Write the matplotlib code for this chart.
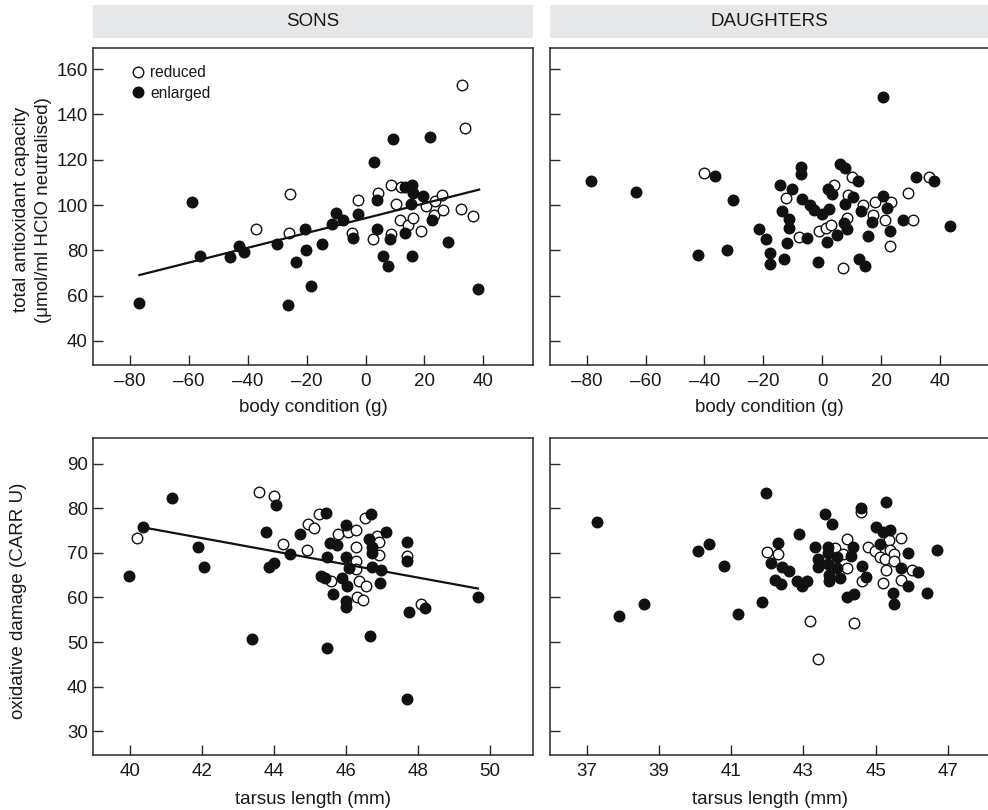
import matplotlib
matplotlib.use("Agg")
import matplotlib.pyplot as plt
from matplotlib.lines import Line2D

plt.rcParams['font.family'] = ['Liberation Sans', 'DejaVu Sans']

# ---------------- data ----------------
# SONS: total antioxidant capacity vs body condition
sons_tac_red_x = [32.8, 33.7, -25.7, -37.2, -25.9, -2.7, 4.3, -4.7, 2.5, 8.6, 12.0, 10.2, 8.6, 11.8,
                  14.3, 16.3, 18.8, 20.6, 23.6, 26.1, 23.4, 26.3, 32.6, 36.5]
sons_tac_red_y = [153.1, 134.2, 104.8, 89.2, 87.7, 102.1, 105.4, 87.7, 85.0, 108.9, 108.0, 100.6, 87.1, 93.6,
                  91.2, 94.2, 88.6, 99.5, 101.8, 104.5, 95.6, 97.7, 98.3, 95.0]
sons_tac_enl_x = [-76.8, -59.1, -56.2, -46.1, -43.1, -41.2, -30.2, -26.2, -23.6, -20.7, -20.2, -18.5,
                  -14.7, -11.5, -10.0, -7.8, -4.3, -2.5, 3.0, 3.8, 3.9, 5.9, 7.5, 8.4, 9.3, 13.4, 13.4,
                  15.7, 15.4, 16.1, 15.7, 19.5, 21.9, 22.7, 28.0, 38.3]
sons_tac_enl_y = [56.6, 101.5, 77.7, 76.9, 81.9, 79.3, 82.8, 56.0, 74.7, 89.6, 80.3, 64.1,
                  82.7, 91.7, 96.5, 93.6, 85.3, 96.0, 118.8, 102.1, 89.2, 77.7, 73.3, 85.0, 129.2, 87.7, 108.0,
                  108.9, 100.6, 105.4, 77.7, 104.2, 130.0, 93.6, 83.6, 63.1]
sons_tac_fit_x = [-76.8, 38.6]
sons_tac_fit_y = [69.1, 106.8]

# DAUGHTERS: total antioxidant capacity vs body condition
dau_tac_red_x = [-40.3, -12.4, -7.8, -1.1, 1.3, 3.1, 3.9, 8.5, 8.8, 10.1, 7.2, 13.7, 17.4, 17.8,
                 21.4, 23.4, 23.2, 29.1, 30.9, 36.2]
dau_tac_red_y = [114.3, 102.9, 85.8, 88.7, 89.9, 91.0, 108.9, 94.2, 104.6, 112.4, 72.4, 100.1, 95.7, 101.3,
                 93.6, 101.3, 81.9, 105.1, 93.6, 112.2]
dau_tac_enl_x = [-78.5, -63.4, -36.4, -30.2, -42.3, -32.5, -21.4, -19.1, -17.8, -17.8, -14.3, -13.8,
                 -13.0, -12.1, -11.2, -11.4, -10.3, -7.2, -7.2, -6.8, -5.1, -4.1, -2.8, -1.3, 0.0, 1.5,
                 1.9, 2.3, 3.4, 5.0, 5.9, 7.6, 7.9, 7.4, 8.5, 10.6, 12.0, 12.5, 13.2, 14.6, 15.5, 16.9,
                 20.8, 20.5, 21.9, 23.2, 27.4, 32.0, 38.0, 43.4]
dau_tac_enl_y = [110.4, 105.8, 112.9, 102.1, 78.1, 80.0, 89.6, 84.9, 78.9, 74.0, 108.9, 97.4,
                 76.4, 83.3, 93.8, 90.0, 107.0, 116.6, 113.9, 102.8, 85.3, 99.9, 97.8, 74.9, 96.0, 83.6,
                 107.1, 98.4, 104.9, 86.8, 118.0, 116.3, 100.4, 92.1, 89.5, 103.7, 110.4, 76.4, 97.2, 73.3,
                 86.2, 92.7, 147.6, 104.2, 98.9, 88.6, 93.6, 112.2, 110.7, 90.6]

# SONS: oxidative damage vs tarsus length
sons_dam_red_x = [40.21, 43.58, 43.99, 44.26, 44.91, 44.95, 45.10, 45.25, 45.78, 46.06, 46.28, 46.28,
                  46.28, 46.28, 45.58, 46.37, 46.56, 46.30, 46.48, 46.54, 46.87, 46.91, 46.91, 47.68, 48.08]
sons_dam_red_y = [73.4, 83.6, 82.8, 72.0, 70.6, 76.5, 75.6, 78.6, 74.2, 74.6, 75.1, 71.3,
                  68.2, 66.4, 63.8, 63.7, 62.5, 60.0, 59.5, 77.9, 73.7, 72.5, 69.5, 69.4, 58.5]
sons_dam_enl_x = [39.99, 40.36, 41.17, 41.89, 42.07, 43.38, 43.78, 44.06, 43.86, 43.99, 44.45, 44.73,
                  45.32, 45.41, 45.45, 45.47, 45.47, 45.55, 45.65, 45.75, 45.89, 45.99, 46.00, 45.99,
                  45.99, 46.02, 46.08, 46.65, 46.69, 46.73, 46.73, 46.73, 46.68, 46.93, 46.97, 47.10,
                  47.68, 47.68, 47.76, 48.20, 47.68, 49.66]
sons_dam_enl_y = [64.7, 75.8, 82.3, 71.4, 66.8, 50.8, 74.6, 80.7, 66.8, 67.8, 69.8, 74.3,
                  64.9, 64.4, 78.9, 69.1, 48.6, 72.3, 60.8, 71.8, 64.4, 76.2, 69.1, 59.1,
                  57.9, 62.6, 66.5, 73.1, 78.6, 71.4, 70.0, 66.9, 51.3, 63.2, 66.1, 74.7,
                  72.4, 68.2, 56.7, 57.7, 37.3, 60.2]
sons_dam_fit_x = [40.38, 49.66]
sons_dam_fit_y = [75.7, 62.0]

# DAUGHTERS: oxidative damage vs tarsus length
dau_dam_red_x = [42.00, 42.29, 43.19, 43.39, 43.88, 44.09, 44.20, 44.20, 44.40, 44.58, 44.61, 44.79,
                 44.99, 45.13, 45.27, 45.29, 45.20, 45.37, 45.41, 45.51, 45.51, 45.71, 45.70, 46.01]
dau_dam_red_y = [70.1, 69.7, 54.8, 46.3, 71.1, 69.7, 73.1, 66.5, 54.3, 79.1, 63.6, 71.4,
                 70.5, 69.0, 68.6, 66.1, 63.2, 72.9, 70.6, 69.7, 68.1, 73.3, 64.0, 66.2]
dau_dam_enl_x = [37.27, 37.90, 38.59, 40.08, 40.38, 40.80, 41.18, 41.86, 41.97, 42.11, 42.29, 42.22,
                 42.39, 42.40, 42.60, 42.87, 42.83, 42.96, 43.11, 43.33, 43.40, 43.40, 43.60, 43.68,
                 43.69, 43.68, 43.70, 43.72, 43.79, 43.93, 43.94, 44.02, 44.20, 44.32, 44.37, 44.40,
                 44.58, 44.62, 44.73, 45.00, 45.13, 45.20, 45.28, 45.41, 45.69, 45.49, 45.50, 45.90,
                 45.90, 46.18, 46.41, 46.71]
dau_dam_enl_y = [77.0, 55.8, 58.6, 70.3, 71.9, 67.1, 56.3, 59.0, 83.3, 67.7, 72.2, 64.0,
                 63.0, 66.9, 66.0, 74.2, 63.7, 62.6, 63.7, 71.4, 68.6, 66.9, 78.6, 71.2,
                 69.9, 67.5, 65.0, 63.8, 76.5, 69.0, 66.5, 64.3, 60.2, 69.2, 71.4, 60.8,
                 80.1, 67.1, 64.5, 75.8, 71.9, 74.7, 81.5, 75.1, 66.6, 60.9, 58.5, 70.0,
                 62.6, 65.6, 60.9, 70.7]

col_titles = ["SONS", "DAUGHTERS"]
tac_yticks = [40, 60, 80, 100, 120, 140, 160]
bc_xticks = [-80, -60, -40, -20, 0, 20, 40]
dam_yticks = [30, 40, 50, 60, 70, 80, 90]
sons_tarsus_xticks = [40, 42, 44, 46, 48, 50]
dau_tarsus_xticks = [37, 39, 41, 43, 45, 47]

# ---------------- figure ----------------
W, H = 988, 810
fig = plt.figure(figsize=(W / 100, H / 100), dpi=100)

TXT = '#1a1a1a'
MS = 7.6
FS = 13.5


def px_axes(l, t, r, b):
    return fig.add_axes([l / W, 1 - b / H, (r - l) / W, (b - t) / H])


axw = 439.4
ax_tl = px_axes(93.3, 48.0, 93.3 + axw, 365.0)
ax_tr = px_axes(550.0, 48.0, 550.0 + axw, 365.0)
ax_bl = px_axes(93.3, 437.7, 93.3 + axw, 755.0)
ax_br = px_axes(550.0, 437.7, 550.0 + axw, 755.0)


def style(ax, showlabels=True):
    for s in ax.spines.values():
        s.set_color('#2a2a2a')
        s.set_linewidth(1.1)
    ax.tick_params(direction='in', length=7.5, width=1.0, color='#2a2a2a',
                   labelsize=FS, labelcolor=TXT, top=False, right=False)
    ax.tick_params(axis='x', pad=6)
    ax.tick_params(axis='y', pad=4)
    if not showlabels:
        ax.tick_params(axis='y', labelleft=False)


def pts(ax, rx, ry, ex, ey):
    ax.plot(rx, ry, 'o', ms=MS, mfc='white', mec='#111111', mew=1.0, ls='none', zorder=3)
    ax.plot(ex, ey, 'o', ms=MS, mfc='#111111', mec='#111111', mew=1.0, ls='none', zorder=4)


# top-left
pts(ax_tl, sons_tac_red_x, sons_tac_red_y, sons_tac_enl_x, sons_tac_enl_y)
ax_tl.plot(sons_tac_fit_x, sons_tac_fit_y, color='#111111', lw=1.6, zorder=5)
# top-right
pts(ax_tr, dau_tac_red_x, dau_tac_red_y, dau_tac_enl_x, dau_tac_enl_y)
# bottom-left
pts(ax_bl, sons_dam_red_x, sons_dam_red_y, sons_dam_enl_x, sons_dam_enl_y)
ax_bl.plot(sons_dam_fit_x, sons_dam_fit_y, color='#111111', lw=1.6, zorder=5)
# bottom-right
pts(ax_br, dau_dam_red_x, dau_dam_red_y, dau_dam_enl_x, dau_dam_enl_y)

for ax in (ax_tl, ax_tr):
    ax.set_xlim(-92.47, 56.8)
    ax.set_ylim(29.4, 169.3)
    ax.set_xticks(bc_xticks)
    ax.set_xticklabels(['\u2013' + str(-v) if v < 0 else str(v) for v in bc_xticks])
    ax.set_yticks(tac_yticks)
    ax.set_xlabel('body condition (g)', fontsize=FS, color=TXT, labelpad=6.5)

for ax in (ax_bl, ax_br):
    ax.set_ylim(24.7, 95.8)
    ax.set_yticks(dam_yticks)
    ax.set_xlabel('tarsus length (mm)', fontsize=FS, color=TXT, labelpad=7.5)

ax_bl.set_xlim(38.99, 51.18)
ax_bl.set_xticks(sons_tarsus_xticks)
ax_br.set_xlim(35.98, 48.15)
ax_br.set_xticks(dau_tarsus_xticks)

style(ax_tl)
style(ax_bl)
style(ax_tr, showlabels=False)
style(ax_br, showlabels=False)

ax_tl.set_ylabel('total antioxidant capacity\n(\u03bcmol/ml HClO neutralised)',
                 fontsize=FS, color=TXT, linespacing=1.35)
ax_tl.yaxis.set_label_coords(-0.095, 0.49)
ax_bl.set_ylabel('oxidative damage (CARR U)', fontsize=FS, color=TXT)
ax_bl.yaxis.set_label_coords(-0.152, 0.485)

# legend
handles = [Line2D([], [], marker='o', ls='none', ms=MS, mfc='white', mec='#111111', mew=1.0),
           Line2D([], [], marker='o', ls='none', ms=MS, mfc='#111111', mec='#111111', mew=1.0)]
ax_tl.legend(handles, ['reduced', 'enlarged'], loc='upper left', bbox_to_anchor=(0.083, 0.945),
             frameon=False, fontsize=11.2, handlelength=1.0, handletextpad=0.3,
             labelspacing=0.35, borderpad=0, borderaxespad=0, labelcolor=TXT)

# header strips
for ax, title in zip((ax_tl, ax_tr), col_titles):
    pos = ax.get_position()
    sax = fig.add_axes([pos.x0, 1 - 38.3 / H, pos.width, 33.3 / H])
    sax.set_facecolor('#e6e7e8')
    for s in sax.spines.values():
        s.set_visible(False)
    sax.set_xticks([])
    sax.set_yticks([])
    sax.text(0.5, 0.5, title, ha='center', va='center', fontsize=FS, color=TXT,
             transform=sax.transAxes)

fig.savefig('out.png', dpi=100)
